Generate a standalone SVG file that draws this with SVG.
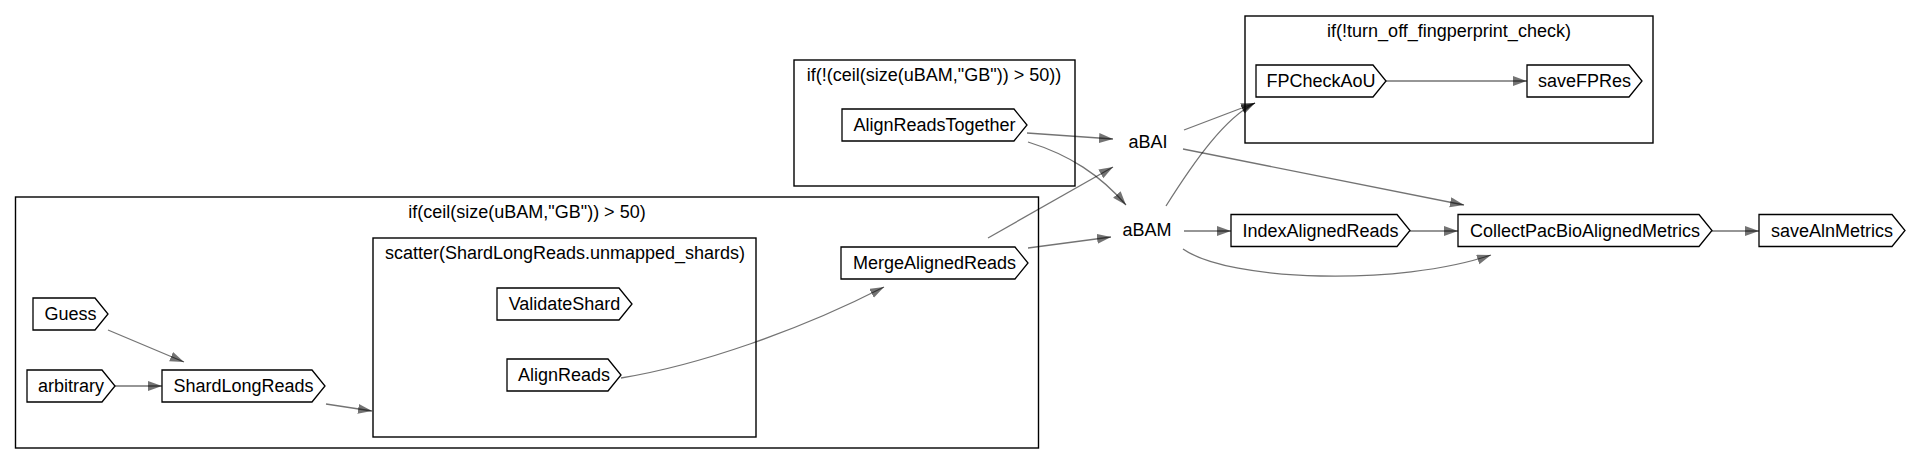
<svg xmlns="http://www.w3.org/2000/svg" width="1911" height="464" viewBox="0 0 1911 464">
<defs>
<style>
text{font-family:"Liberation Sans",Arial,Helvetica,sans-serif;font-size:18px;fill:#000;text-anchor:middle}
.cl{fill:none;stroke:#000;stroke-width:1.4}
.nd{fill:#fff;stroke:#000;stroke-width:1.3}
.e{fill:none;stroke:#000;stroke-opacity:0.55;stroke-width:1.3;marker-end:url(#ah)}
</style>
<marker id="ah" markerUnits="userSpaceOnUse" markerWidth="16" markerHeight="12" refX="14" refY="5" orient="auto" viewBox="0 0 16 12">
<path d="M0,0 L14,5 L0,10 z" fill="#000" fill-opacity="0.55"/>
</marker>
</defs>
<rect width="1911" height="464" fill="#fff"/>
<g id="clusters">
<g id="cluster_big"><rect class="cl" x="15.5" y="197" width="1023" height="251"/><text x="527" y="218">if(ceil(size(uBAM,"GB")) &gt; 50)</text></g>
<g id="cluster_scatter"><rect class="cl" x="373" y="238" width="383" height="199"/><text x="565" y="259">scatter(ShardLongReads.unmapped_shards)</text></g>
<g id="cluster_notbig"><rect class="cl" x="794" y="60" width="281" height="126"/><text x="934" y="81">if(!(ceil(size(uBAM,"GB")) &gt; 50))</text></g>
<g id="cluster_fp"><rect class="cl" x="1245" y="16" width="408" height="127"/><text x="1449" y="37">if(!turn_off_fingperprint_check)</text></g>
</g>
<g id="edges">
<path class="e" d="M108,330 L184,362"/>
<path class="e" d="M115,386 L162,386"/>
<path class="e" d="M326,404 L372,411"/>
<path class="e" d="M621,378 C700,365 800,330 884,287"/>
<path class="e" d="M1028,248 L1111,237"/>
<path class="e" d="M988,238 L1113,167"/>
<path class="e" d="M1027,133 L1113,139"/>
<path class="e" d="M1028,142 C1070,155 1100,175 1126,205"/>
<path class="e" d="M1184,130 L1255,103"/>
<path class="e" d="M1166,206 C1195,160 1225,118 1255,103"/>
<path class="e" d="M1183,149 L1464,205"/>
<path class="e" d="M1184,231 L1231,231"/>
<path class="e" d="M1183,249 C1230,282 1400,286 1491,255"/>
<path class="e" d="M1410,231 L1458,231"/>
<path class="e" d="M1712,231 L1759,231"/>
<path class="e" d="M1386,81 L1527,81"/>
</g>
<g id="AlignReadsTogether"><path class="nd" d="M842,109 H1014 L1027,125 L1014,141 H842 Z"/><text x="934.5" y="131">AlignReadsTogether</text></g>
<g id="FPCheckAoU"><path class="nd" d="M1256,65 H1373 L1386,81 L1373,97 H1256 Z"/><text x="1321" y="87">FPCheckAoU</text></g>
<g id="saveFPRes"><path class="nd" d="M1527,65 H1629 L1642,81 L1629,97 H1527 Z"/><text x="1584.5" y="87">saveFPRes</text></g>
<g id="Guess"><path class="nd" d="M33,298 H95 L108,314 L95,330 H33 Z"/><text x="70.5" y="320">Guess</text></g>
<g id="arbitrary"><path class="nd" d="M27,370 H102 L115,386 L102,402 H27 Z"/><text x="71" y="392">arbitrary</text></g>
<g id="ShardLongReads"><path class="nd" d="M162,370 H312 L325,386 L312,402 H162 Z"/><text x="243.5" y="392">ShardLongReads</text></g>
<g id="ValidateShard"><path class="nd" d="M497,288 H619 L632,304 L619,320 H497 Z"/><text x="564.5" y="310">ValidateShard</text></g>
<g id="AlignReads"><path class="nd" d="M507,359 H608 L621,375 L608,391 H507 Z"/><text x="564" y="381">AlignReads</text></g>
<g id="MergeAlignedReads"><path class="nd" d="M841,247 H1015 L1028,263 L1015,279 H841 Z"/><text x="934.5" y="269">MergeAlignedReads</text></g>
<g id="aBAI"><text x="1148" y="148">aBAI</text></g>
<g id="aBAM"><text x="1147" y="236">aBAM</text></g>
<g id="IndexAlignedReads"><path class="nd" d="M1231,214.5 H1397 L1410,230.5 L1397,246.5 H1231 Z"/><text x="1320.5" y="237">IndexAlignedReads</text></g>
<g id="CollectPacBioAlignedMetrics"><path class="nd" d="M1458,214.5 H1699 L1712,230.5 L1699,246.5 H1458 Z"/><text x="1585" y="237">CollectPacBioAlignedMetrics</text></g>
<g id="saveAlnMetrics"><path class="nd" d="M1759,214.5 H1892 L1905,230.5 L1892,246.5 H1759 Z"/><text x="1832" y="237">saveAlnMetrics</text></g>
</svg>
